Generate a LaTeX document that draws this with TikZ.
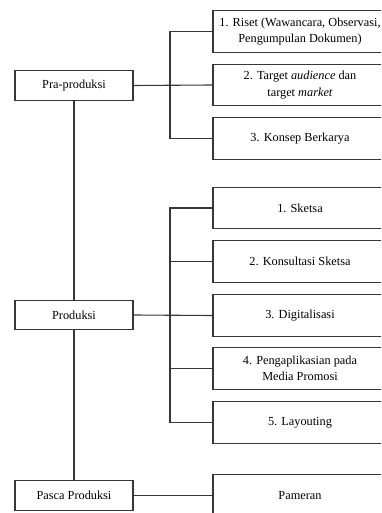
\documentclass[tikz,border=0pt]{standalone}
\usepackage{fontspec}
\setmainfont{Liberation Serif}
\usepackage{tikz}
\tikzset{every picture/.style={line width=1.1pt}}
\definecolor{lineg}{RGB}{55,55,55}
\tikzset{
  stage/.style={draw=lineg, minimum width=118, minimum height=29.5, inner sep=0pt, font=\fontsize{12.3}{16.5}\selectfont},
  task/.style={draw=lineg, minimum width=174, minimum height=41.5, inner sep=0pt, align=center, font=\fontsize{12.3}{16.5}\selectfont},
  link/.style={draw=lineg}
}

\begin{document}
\begin{tikzpicture}[x=1pt,y=1pt,yscale=-1,xscale=1]
		\useasboundingbox (0,0) rectangle (381,513);
		\clip (0,0) rectangle (381,513);
		
		% Text Node
		\node [stage] (pra) at (74,85.5) {Pra-produksi};
		% Text Node
		\node [stage] (prod) at (74,315) {Produksi};
		% Text Node
		\node [stage] (pasca) at (74,495.5) {Pasca Produksi};
		
		% Text Node
		\node [task] (riset) at (300,31.5) {1. Riset (Wawancara, Observasi,\\Pengumpulan Dokumen)};
		% Text Node
		\node [task] (target) at (300,85) {2. Target \textit{audience} dan\\target \textit{market}};
		% Text Node
		\node [task] (konsep) at (300,138.5) {3. Konsep Berkarya};
		
		% Text Node
		\node [task] (sketsa) at (300,208) {1. Sketsa};
		% Text Node
		\node [task] (konsul) at (300,261.5) {2. Konsultasi Sketsa};
		% Text Node
		\node [task] (digital) at (300,315.5) {3. Digitalisasi};
		% Text Node
		\node [task] (aplikasi) at (300,368.5) {4. Pengaplikasian pada\\Media Promosi};
		% Text Node
		\node [task] (layout) at (300,422.5) {5. Layouting};
		
		% Text Node
		\node [task] (pameran) at (300,495.5) {Pameran};
		
		%Straight Lines
		\coordinate (jpra) at (170,85);
		\coordinate (jprod) at (170,315);
		
		%Straight Lines
		\draw [link] (pra.south) -- (prod.north);
		\draw [link] (prod.south) -- (pasca.north);
		
		%Straight Lines
		\draw [link] (pra.east) -- (target.west);
		\draw [link] (riset.west) -| (jpra) |- (konsep.west);
		
		%Straight Lines
		\draw [link] (prod.east) -- (digital.west);
		\draw [link] (sketsa.west) -| (jprod) |- (layout.west);
		\draw [link] (jprod |- konsul.west) -- (konsul.west);
		\draw [link] (jprod |- aplikasi.west) -- (aplikasi.west);
		
		%Straight Lines
		\draw [link] (pasca.east) -- (pameran.west);
		
\end{tikzpicture}
\end{document}
